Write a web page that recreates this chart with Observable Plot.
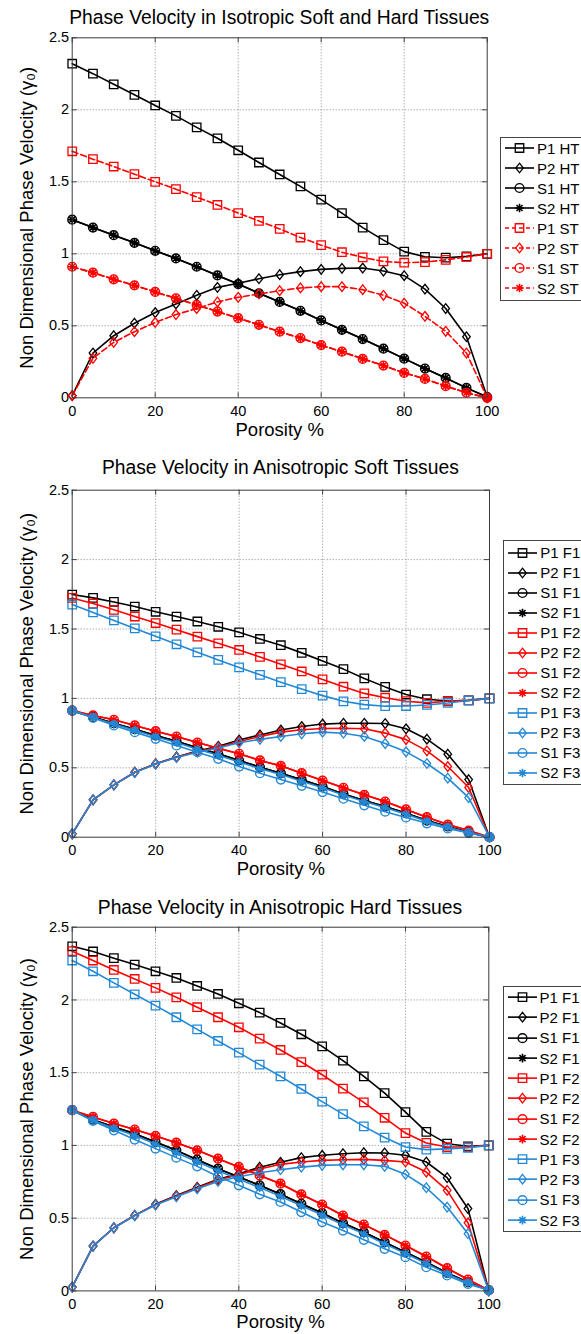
<!DOCTYPE html>
<html><head><meta charset="utf-8">
<script src="https://cdn.jsdelivr.net/npm/d3@7"></script>
<script src="https://cdn.jsdelivr.net/npm/@observablehq/plot@0.6"></script>
<style>
html,body{margin:0;padding:0;background:#fff;}
#page{position:relative;width:581px;height:1334px;overflow:hidden;font-family:"Liberation Sans",Arial,Helvetica,sans-serif;color:#000;background:#fff;}
.title{position:absolute;text-align:center;font-size:19.3px;line-height:20px;white-space:nowrap;}
.panel{position:absolute;left:0;}
.legend{position:absolute;border:1px solid #444;background:#fff;width:120px;box-sizing:border-box;}
.legend .row{display:flex;align-items:center;font-size:15px;white-space:nowrap;}
.legend svg{flex:none;}
</style></head><body><div id="page"></div>
<script>
// ---------- data ----------
const porosity = [0,5,10,15,20,25,30,35,40,45,50,55,60,65,70,75,80,85,90,95,100];
const xTicks = [0,20,40,60,80,100];
const yTicks = [0,0.5,1,1.5,2,2.5];
const titles = [
  "Phase Velocity in Isotropic Soft and Hard Tissues",
  "Phase Velocity in Anisotropic Soft Tissues",
  "Phase Velocity in Anisotropic Hard Tissues"
];
const xLabel = "Porosity %";
const yLabel = "Non Dimensional Phase Velocity (γ₀)";

// Panel 1: isotropic
const isoNames = ["P1 HT","P2 HT","S1 HT","S2 HT","P1 ST","P2 ST","S1 ST","S2 ST"];
const iso_P1_HT = [2.320,2.251,2.177,2.104,2.030,1.958,1.878,1.802,1.719,1.634,1.551,1.468,1.376,1.283,1.182,1.095,1.015,0.979,0.973,0.982,1.000];
const iso_P2_HT = [0.015,0.311,0.431,0.518,0.592,0.652,0.712,0.767,0.795,0.827,0.855,0.876,0.892,0.899,0.901,0.880,0.848,0.755,0.620,0.424,0.005];
const iso_S1_HT = [1.237,1.182,1.129,1.076,1.021,0.968,0.910,0.850,0.790,0.726,0.666,0.604,0.537,0.472,0.408,0.341,0.272,0.203,0.138,0.069,0.005];
const iso_S2_HT = [1.237,1.182,1.129,1.076,1.021,0.968,0.910,0.850,0.790,0.726,0.666,0.604,0.537,0.472,0.408,0.341,0.272,0.203,0.138,0.069,0.005];
const iso_P1_ST = [1.712,1.657,1.606,1.553,1.500,1.449,1.394,1.339,1.283,1.228,1.173,1.113,1.060,1.011,0.975,0.947,0.938,0.942,0.958,0.978,1.000];
const iso_P2_ST = [0.015,0.274,0.385,0.459,0.523,0.578,0.620,0.666,0.698,0.721,0.744,0.763,0.772,0.772,0.751,0.712,0.657,0.566,0.462,0.311,0.000];
const iso_S1_ST = [0.910,0.869,0.823,0.781,0.735,0.691,0.645,0.599,0.553,0.507,0.459,0.415,0.366,0.320,0.270,0.224,0.173,0.131,0.081,0.035,0.000];
const iso_S2_ST = [0.910,0.869,0.823,0.781,0.735,0.691,0.645,0.599,0.553,0.507,0.459,0.415,0.366,0.320,0.270,0.224,0.173,0.131,0.081,0.035,0.000];

// Panel 2: anisotropic soft
const aniNames = ["P1 F1","P2 F1","S1 F1","S2 F1","P1 F2","P2 F2","S1 F2","S2 F2","P1 F3","P2 F3","S1 F3","S2 F3"];
const soft_P1_F1 = [1.748,1.724,1.695,1.662,1.624,1.590,1.554,1.516,1.476,1.428,1.383,1.328,1.270,1.211,1.144,1.083,1.028,0.994,0.981,0.986,1.000];
const soft_P2_F1 = [0.024,0.269,0.377,0.468,0.529,0.578,0.620,0.655,0.700,0.737,0.772,0.797,0.815,0.821,0.821,0.819,0.781,0.706,0.598,0.415,0.000];
const soft_S1_F1 = [0.912,0.865,0.821,0.778,0.733,0.692,0.644,0.601,0.553,0.504,0.461,0.413,0.365,0.312,0.264,0.221,0.173,0.120,0.077,0.036,0.000];
const soft_S2_F1 = [0.912,0.865,0.821,0.778,0.733,0.692,0.644,0.601,0.553,0.504,0.461,0.413,0.365,0.312,0.264,0.221,0.173,0.120,0.077,0.036,0.000];
const soft_P1_F2 = [1.724,1.683,1.638,1.590,1.543,1.495,1.445,1.397,1.349,1.299,1.246,1.194,1.137,1.084,1.036,1.005,0.980,0.968,0.979,0.986,1.000];
const soft_P2_F2 = [0.024,0.269,0.377,0.468,0.529,0.576,0.617,0.648,0.690,0.725,0.757,0.774,0.783,0.785,0.781,0.750,0.703,0.622,0.509,0.358,0.000];
const soft_S1_F2 = [0.912,0.877,0.846,0.805,0.764,0.725,0.682,0.641,0.601,0.553,0.514,0.461,0.408,0.356,0.305,0.257,0.200,0.144,0.091,0.048,0.000];
const soft_S2_F2 = [0.912,0.877,0.846,0.805,0.764,0.725,0.682,0.641,0.601,0.553,0.514,0.461,0.408,0.356,0.305,0.257,0.200,0.144,0.091,0.048,0.000];
const soft_P1_F3 = [1.676,1.619,1.562,1.504,1.447,1.390,1.332,1.277,1.223,1.170,1.117,1.067,1.020,0.979,0.955,0.944,0.945,0.953,0.967,0.985,1.000];
const soft_P2_F3 = [0.024,0.269,0.377,0.466,0.527,0.574,0.612,0.643,0.680,0.705,0.726,0.745,0.757,0.749,0.726,0.675,0.615,0.531,0.425,0.285,0.000];
const soft_S1_F3 = [0.912,0.860,0.805,0.757,0.709,0.661,0.612,0.565,0.509,0.461,0.415,0.370,0.325,0.277,0.230,0.184,0.142,0.100,0.063,0.030,0.000];
const soft_S2_F3 = [0.912,0.862,0.815,0.770,0.724,0.682,0.634,0.590,0.542,0.494,0.451,0.403,0.356,0.304,0.257,0.213,0.166,0.114,0.072,0.033,0.000];

// Panel 3: anisotropic hard
const hard_P1_F1 = [2.369,2.333,2.287,2.243,2.197,2.151,2.096,2.041,1.977,1.913,1.842,1.764,1.681,1.583,1.475,1.360,1.229,1.093,1.012,0.994,1.000];
const hard_P2_F1 = [0.026,0.308,0.434,0.519,0.595,0.655,0.712,0.768,0.805,0.850,0.884,0.916,0.932,0.943,0.950,0.948,0.932,0.886,0.778,0.566,0.000];
const hard_S1_F1 = [1.242,1.177,1.127,1.081,1.024,0.966,0.902,0.840,0.783,0.726,0.665,0.599,0.535,0.466,0.404,0.335,0.266,0.197,0.124,0.060,0.005];
const hard_S2_F1 = [1.242,1.177,1.127,1.081,1.024,0.966,0.902,0.840,0.783,0.726,0.665,0.599,0.535,0.466,0.404,0.335,0.266,0.197,0.124,0.060,0.005];
const hard_P1_F2 = [2.335,2.271,2.206,2.144,2.083,2.018,1.950,1.881,1.812,1.734,1.656,1.573,1.486,1.390,1.296,1.190,1.085,1.017,0.989,0.989,1.000];
const hard_P2_F2 = [0.026,0.308,0.434,0.519,0.593,0.652,0.708,0.762,0.798,0.838,0.870,0.886,0.897,0.902,0.904,0.897,0.886,0.817,0.691,0.468,0.000];
const hard_S1_F2 = [1.242,1.196,1.150,1.109,1.065,1.019,0.966,0.909,0.852,0.794,0.737,0.663,0.594,0.518,0.456,0.385,0.312,0.236,0.156,0.078,0.005];
const hard_S2_F2 = [1.242,1.196,1.150,1.109,1.065,1.019,0.966,0.909,0.852,0.794,0.737,0.663,0.594,0.518,0.456,0.385,0.312,0.236,0.156,0.078,0.005];
const hard_P1_F3 = [2.271,2.197,2.117,2.039,1.961,1.881,1.798,1.718,1.638,1.555,1.475,1.388,1.301,1.215,1.131,1.054,0.989,0.971,0.976,0.984,1.000];
const hard_P2_F3 = [0.026,0.308,0.434,0.517,0.590,0.647,0.702,0.752,0.785,0.812,0.833,0.851,0.863,0.867,0.867,0.856,0.801,0.709,0.576,0.393,0.000];
const hard_S1_F3 = [1.242,1.168,1.104,1.040,0.978,0.916,0.856,0.787,0.726,0.664,0.611,0.542,0.473,0.415,0.351,0.289,0.232,0.163,0.106,0.048,0.005];
const hard_S2_F3 = [1.242,1.172,1.118,1.068,1.010,0.950,0.888,0.826,0.768,0.710,0.650,0.585,0.521,0.454,0.392,0.324,0.257,0.188,0.117,0.055,0.005];

// ---------- styles ----------
const BLACK = "#000000", RED = "#ff0000", BLUE = "#2288d6";
const asterisk8 = {
  draw(ctx, size) {
    const r = Math.sqrt(size / Math.PI), a = r * Math.SQRT1_2;
    ctx.moveTo(-r, 0); ctx.lineTo(r, 0);
    ctx.moveTo(0, -r); ctx.lineTo(0, r);
    ctx.moveTo(-a, -a); ctx.lineTo(a, a);
    ctx.moveTo(-a, a); ctx.lineTo(a, -a);
  }
};
const diamondTall = {
  draw(ctx, size) {
    const r = Math.sqrt(size / Math.PI), w = r * 0.88, h = r * 1.12;
    ctx.moveTo(0, -h); ctx.lineTo(w, 0); ctx.lineTo(0, h); ctx.lineTo(-w, 0); ctx.closePath();
  }
};
const squareSym = {
  draw(ctx, size) {
    const r = Math.sqrt(size / Math.PI) * 0.9;
    ctx.moveTo(-r, -r); ctx.lineTo(r, -r); ctx.lineTo(r, r); ctx.lineTo(-r, r); ctx.closePath();
  }
};
const MARK = {
  P1: {symbol: squareSym, r: 4.7, sw: 1.3},
  P2: {symbol: diamondTall, r: 4.3, sw: 1.3},
  S1: {symbol: d3.symbolCircle, r: 4.4, sw: 1.4},
  S2: {symbol: asterisk8, r: 4.3, sw: 1.6}
};
function mk(name, values, color, dash) {
  const kind = name.slice(0, 2);
  return {name, values, color, dash, ...MARK[kind]};
}

const series1 = [
  mk(isoNames[0], iso_P1_HT, BLACK), mk(isoNames[1], iso_P2_HT, BLACK),
  mk(isoNames[2], iso_S1_HT, BLACK), mk(isoNames[3], iso_S2_HT, BLACK),
  mk(isoNames[4], iso_P1_ST, RED, "6,3"), mk(isoNames[5], iso_P2_ST, RED, "6,3"),
  mk(isoNames[6], iso_S1_ST, RED, "6,3"), mk(isoNames[7], iso_S2_ST, RED, "6,3")
];
const series2 = [
  mk(aniNames[0], soft_P1_F1, BLACK), mk(aniNames[1], soft_P2_F1, BLACK),
  mk(aniNames[2], soft_S1_F1, BLACK), mk(aniNames[3], soft_S2_F1, BLACK),
  mk(aniNames[4], soft_P1_F2, RED), mk(aniNames[5], soft_P2_F2, RED),
  mk(aniNames[6], soft_S1_F2, RED), mk(aniNames[7], soft_S2_F2, RED),
  mk(aniNames[8], soft_P1_F3, BLUE), mk(aniNames[9], soft_P2_F3, BLUE),
  mk(aniNames[10], soft_S1_F3, BLUE), mk(aniNames[11], soft_S2_F3, BLUE)
];
const series3 = [
  mk(aniNames[0], hard_P1_F1, BLACK), mk(aniNames[1], hard_P2_F1, BLACK),
  mk(aniNames[2], hard_S1_F1, BLACK), mk(aniNames[3], hard_S2_F1, BLACK),
  mk(aniNames[4], hard_P1_F2, RED), mk(aniNames[5], hard_P2_F2, RED),
  mk(aniNames[6], hard_S1_F2, RED), mk(aniNames[7], hard_S2_F2, RED),
  mk(aniNames[8], hard_P1_F3, BLUE), mk(aniNames[9], hard_P2_F3, BLUE),
  mk(aniNames[10], hard_S1_F3, BLUE), mk(aniNames[11], hard_S2_F3, BLUE)
];

const panels = [
  {title: titles[0], series: series1, svgTop: 28, height: 418, mt: 9.3, mb: 48.7, ml: 71.7, mr: 13.3, titleTop: 8.3, xlDy: 32.7,
   legend: {left: 500, top: 137, rowH: 20, padTop: 0.3, padBottom: 1.5}},
  {title: titles[1], series: series2, svgTop: 480, height: 406, mt: 9.7, mb: 49.3, ml: 71.7, mr: 11, titleTop: 458.3, xlDy: 31.6,
   legend: {left: 503.3, top: 540, rowH: 20, padTop: 1.7, padBottom: 1.5}},
  {title: titles[2], series: series3, svgTop: 918, height: 416, mt: 8.7, mb: 43.6, ml: 71.7, mr: 11.7, titleTop: 898.3, xlDy: 31.3,
   legend: {left: 502.5, top: 986, rowH: 20.25, padTop: 0.2, padBottom: 0.5}}
];

const page = d3.select("#page");
const W = 500;

for (const p of panels) {
  const plotW = W - p.ml - p.mr;
  const plotH = p.height - p.mt - p.mb;
  const marks = [
    Plot.gridX(xTicks.slice(1, -1), {stroke: "#8a8a8a", strokeOpacity: 1, strokeDasharray: "1,2"}),
    Plot.gridY(yTicks.slice(1, -1), {stroke: "#8a8a8a", strokeOpacity: 1, strokeDasharray: "1,2"}),
    Plot.ruleX(xTicks, {stroke: "#444", insetTop: plotH - 5}),
    Plot.ruleX(xTicks, {stroke: "#444", insetBottom: plotH - 5}),
    Plot.ruleY(yTicks, {stroke: "#444", insetRight: plotW - 5}),
    Plot.ruleY(yTicks, {stroke: "#444", insetLeft: plotW - 5}),
    Plot.axisX(xTicks, {tickSize: 0, tickPadding: 8, fontSize: 14.5, tickFormat: d => String(d), label: null}),
    Plot.axisY(yTicks, {tickSize: 0, tickPadding: 3, fontSize: 14.5, tickFormat: d => String(d), label: null})
  ];
  for (const s of p.series) {
    const rows = porosity.map((x, i) => ({x, y: s.values[i]}));
    marks.push(Plot.line(rows, {x: "x", y: "y", stroke: s.color, strokeWidth: 1.6, strokeDasharray: s.dash}));
    marks.push(Plot.dot(rows, {x: "x", y: "y", symbol: s.symbol, r: s.r, stroke: s.color, fill: "none", strokeWidth: s.sw}));
  }
  marks.push(Plot.frame({stroke: "#3a3a3a", strokeWidth: 1}));
  marks.push(Plot.text([xLabel], {text: d => d, frameAnchor: "bottom", dy: p.xlDy, lineAnchor: "middle", fontSize: 18.5}));
  marks.push(Plot.text([yLabel], {text: d => d, frameAnchor: "left", textAnchor: "middle", rotate: -90, dx: -45, lineAnchor: "middle", fontSize: 18.5}));

  const chart = Plot.plot({
    width: W, height: p.height,
    marginTop: p.mt, marginBottom: p.mb, marginLeft: p.ml, marginRight: p.mr,
    x: {domain: [0, 100]},
    y: {domain: [0, 2.5]},
    style: {fontFamily: '"Liberation Sans", Arial, Helvetica, sans-serif', fontSize: "14px", color: "#000", background: "transparent", overflow: "visible"},
    marks
  });
  page.append("div").attr("class", "panel").style("top", p.svgTop + "px").node().appendChild(chart);

  page.append("div").attr("class", "title")
    .style("top", p.titleTop + "px").style("left", (p.ml - 20) + "px").style("width", (plotW + 40) + "px")
    .text(p.title);

  const L = p.legend;
  const box = page.append("div").attr("class", "legend")
    .style("left", L.left + "px").style("top", L.top + "px")
    .style("padding-top", L.padTop + "px").style("padding-bottom", L.padBottom + "px");
  for (const s of p.series) {
    const row = box.append("div").attr("class", "row").style("height", L.rowH + "px");
    const svg = row.append("svg").attr("width", 36).attr("height", L.rowH);
    const cy = L.rowH / 2;
    svg.append("line").attr("x1", 4).attr("x2", 33).attr("y1", cy).attr("y2", cy)
      .attr("stroke", s.color).attr("stroke-width", 1.6).attr("stroke-dasharray", s.dash ? "4,3" : null);
    svg.append("path").attr("transform", `translate(18.5,${cy})`)
      .attr("d", d3.symbol(s.symbol, Math.PI * s.r * s.r)())
      .attr("fill", "none").attr("stroke", s.color).attr("stroke-width", s.sw);
    row.append("span").text(s.name);
  }
}
</script></body></html>
